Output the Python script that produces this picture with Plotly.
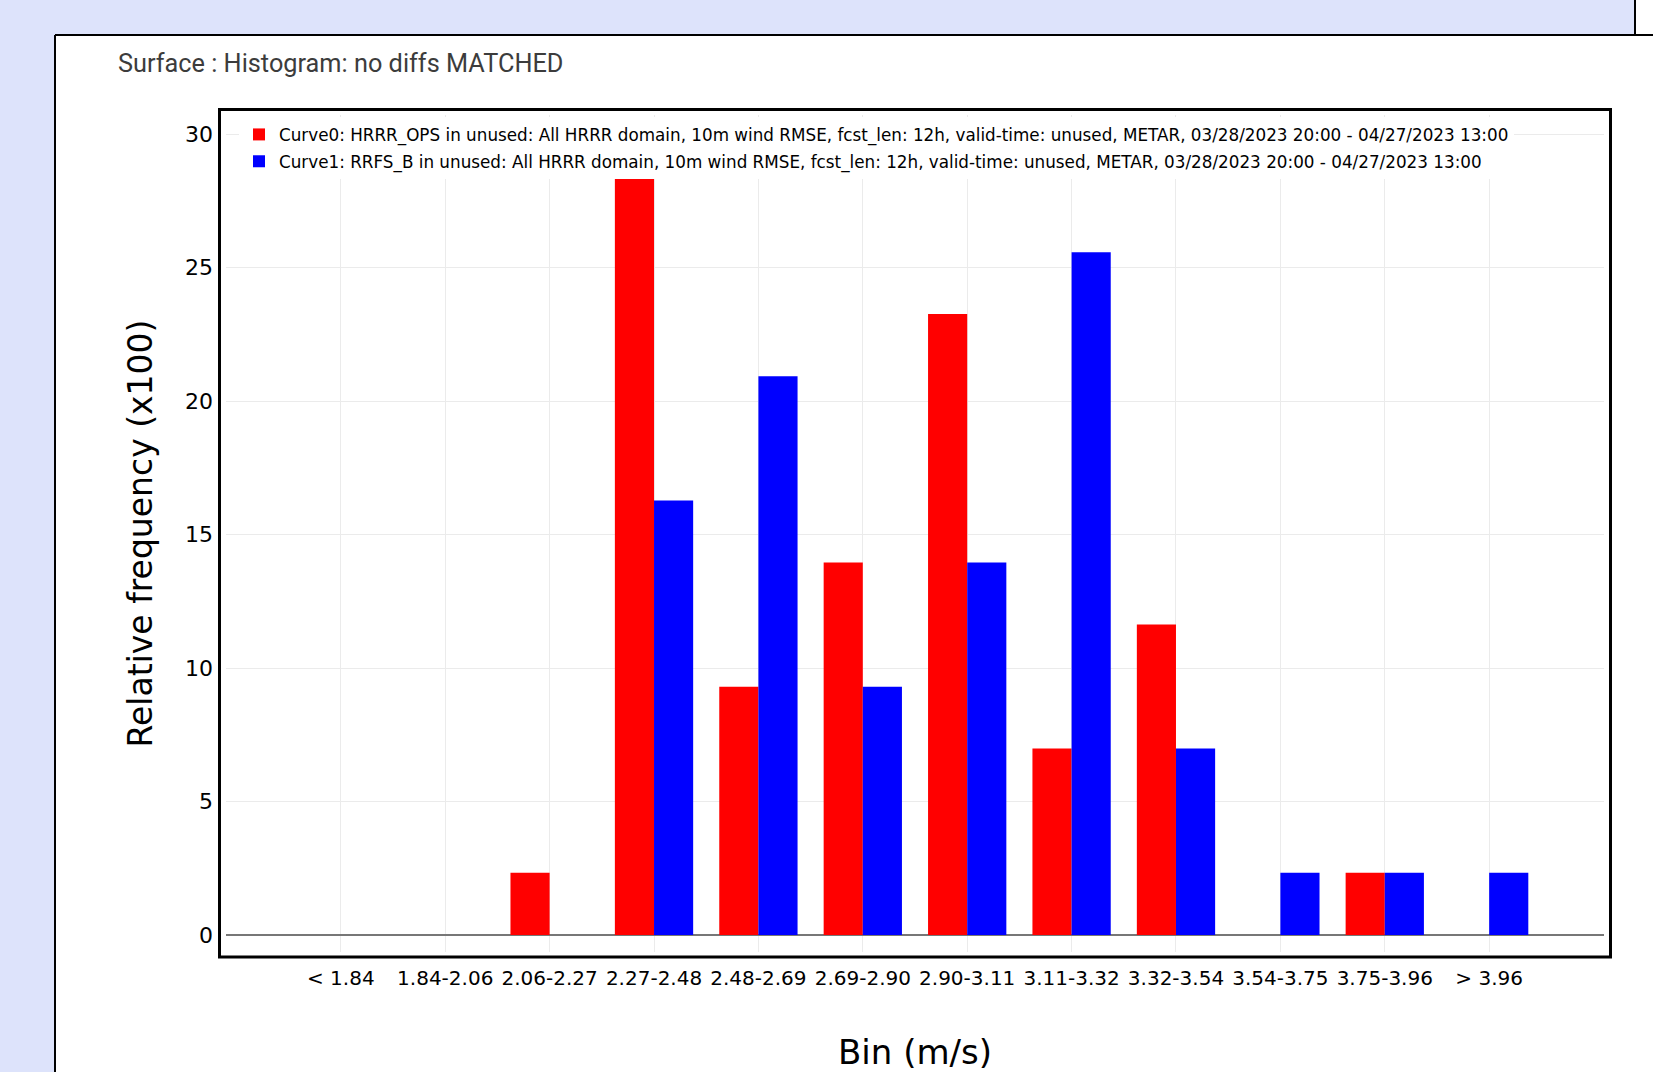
import plotly.graph_objects as go

# ---------------- data ----------------
bins = ["< 1.84", "1.84-2.06", "2.06-2.27", "2.27-2.48", "2.48-2.69", "2.69-2.90",
        "2.90-3.11", "3.11-3.32", "3.32-3.54", "3.54-3.75", "3.75-3.96", "> 3.96"]
hrrr_ops = [0, 0, 2.33, 30.23, 9.30, 13.95, 23.26, 6.98, 11.63, 0, 2.33, 0]
rrfs_b = [0, 0, 0, 16.28, 20.93, 9.30, 13.95, 25.58, 6.98, 2.33, 2.33, 2.33]
name0 = ("Curve0: HRRR_OPS in unused: All HRRR domain, 10m wind RMSE, fcst_len: 12h, "
         "valid-time: unused, METAR, 03/28/2023 20:00 - 04/27/2023 13:00")
name1 = ("Curve1: RRFS_B in unused: All HRRR domain, 10m wind RMSE, fcst_len: 12h, "
         "valid-time: unused, METAR, 03/28/2023 20:00 - 04/27/2023 13:00")
title_text = "Surface : Histogram: no diffs MATCHED"
x_title = "Bin (m/s)"
y_title = "Relative frequency (x100)"

# ---------------- geometry ----------------
W, H = 1653, 1072
L, R, T, B = 226, 1604, 115, 952
pw, ph = R - L, B - T


def px(x):
    return (x - L) / pw


def py(y):
    return (B - y) / ph


fig = go.Figure()
fig.add_trace(go.Bar(x=bins, y=hrrr_ops, name=name0, marker_color="#ff0000",
                     marker_line_width=0, legendgroup="g0"))
fig.add_trace(go.Bar(x=bins, y=rrfs_b, name=name1, marker_color="#0000ff",
                     marker_line_width=0, legendgroup="g1"))

shapes = [
    # white card
    dict(type="rect", xref="paper", yref="paper", x0=px(55), x1=px(1700), y0=py(1120), y1=py(35),
         fillcolor="white", line=dict(width=0), layer="below"),
    dict(type="rect", xref="paper", yref="paper", x0=px(1635), x1=px(1700), y0=py(35), y1=py(-10),
         fillcolor="white", line=dict(width=0), layer="below"),
    dict(type="line", xref="paper", yref="paper", x0=px(55), x1=px(1700), y0=py(35), y1=py(35),
         line=dict(color="black", width=2), layer="below"),
    dict(type="line", xref="paper", yref="paper", x0=px(55), x1=px(55), y0=py(35), y1=py(1120),
         line=dict(color="black", width=2), layer="below"),
    dict(type="line", xref="paper", yref="paper", x0=px(1635), x1=px(1635), y0=py(-10), y1=py(35),
         line=dict(color="black", width=2), layer="below"),
    # plot frame
    dict(type="rect", xref="paper", yref="paper", x0=px(219.5), x1=px(1610.5), y0=py(957), y1=py(109.5),
         line=dict(color="black", width=3), fillcolor="rgba(0,0,0,0)", layer="above"),
]

fig.update_layout(
    width=W, height=H,
    margin=dict(l=L, r=W - R, t=T, b=H - B, autoexpand=False),
    paper_bgcolor="#dde3fb",
    plot_bgcolor="white",
    barmode="group",
    bargap=0.25,
    bargroupgap=0,
    shapes=shapes,
    title=dict(text=title_text, x=118 / W, xanchor="left", xref="container",
               y=1 - 63 / H, yanchor="middle", yref="container",
               font=dict(family="Roboto", size=25.3, color="#3c3c3c")),
    legend=dict(x=px(239), y=py(117), xanchor="left", yanchor="top", bgcolor="white",
                font=dict(family="DejaVu Sans", size=16.8, color="black"),
                tracegroupgap=2, traceorder="grouped"),
    xaxis=dict(range=[-1.1, 12.1], showgrid=True, gridcolor="#ebebeb", gridwidth=1,
               zeroline=False, showline=False, ticks="",
               tickfont=dict(family="DejaVu Sans", size=20, color="black"),
               ticklabelstandoff=12,
               title=dict(text=x_title, font=dict(family="DejaVu Sans", size=34, color="black"),
                          standoff=53),
               automargin=False),
    yaxis=dict(range=[-0.64, 30.72], dtick=5, showgrid=True, gridcolor="#ebebeb", gridwidth=1,
               zeroline=True, zerolinecolor="#777777", zerolinewidth=1.5, showline=False, ticks="",
               tickfont=dict(family="DejaVu Sans", size=22, color="black"),
               ticklabelstandoff=12,
               title=dict(text=y_title, font=dict(family="DejaVu Sans", size=33, color="black"),
                          standoff=22),
               automargin=False),
)

fig.write_html("out.html", config={"displayModeBar": False},
               post_script="document.body.style.margin='0';document.body.style.background='#dde3fb';")
